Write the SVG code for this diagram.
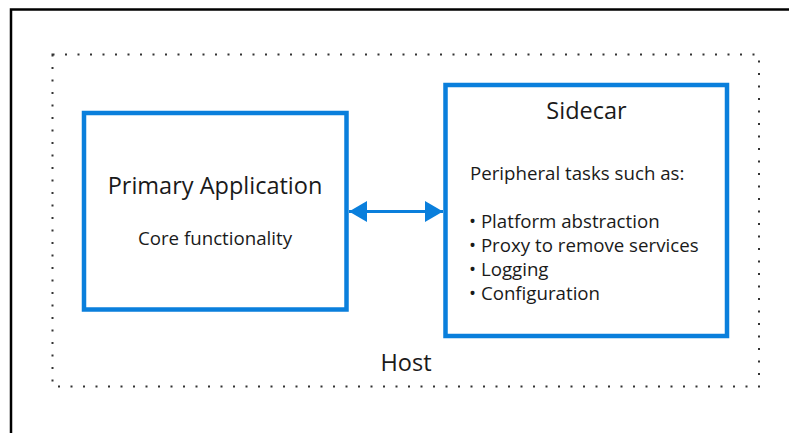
<svg xmlns="http://www.w3.org/2000/svg" width="789" height="433" viewBox="0 0 789 433">
  <defs>
    <style>
      .box { fill: #ffffff; stroke: #0a7fdc; stroke-width: 4.5; }
      .title { font-family: "Open Sans", "Noto Sans", sans-serif; font-size: 23.5px; fill: #1a1a1a; }
      .body { font-family: "Open Sans", "Noto Sans", sans-serif; font-size: 18.7px; fill: #1a1a1a; }
      .conn { stroke: #0a7fdc; stroke-width: 3; fill: none; }
    </style>
    <marker id="ah" viewBox="0 0 18 21" refX="18" refY="10.5" markerWidth="18" markerHeight="21" markerUnits="userSpaceOnUse" orient="auto-start-reverse">
      <path d="M0,0 L18,10.5 L0,21 Z" fill="#0a7fdc"/>
    </marker>
  </defs>
  <rect x="0" y="0" width="789" height="433" fill="#ffffff"/>
  <g id="frame">
    <path d="M11,433 L11,9.5 L789,9.5" fill="none" stroke="#000000" stroke-width="2.5"/>
  </g>
  <g id="host">
    <rect x="52.5" y="54.5" width="706.5" height="332" fill="none" stroke="#333333" stroke-width="2" stroke-dasharray="2 10.5"/>
    <text class="title" x="406" y="371" text-anchor="middle">Host</text>
  </g>
  <g id="primary">
    <rect class="box" x="84" y="113" width="262.5" height="196.5"/>
    <text class="title" x="215" y="194" text-anchor="middle">Primary Application</text>
    <text class="body" x="215" y="245" text-anchor="middle">Core functionality</text>
  </g>
  <g id="sidecar">
    <rect class="box" x="445.5" y="85" width="281.5" height="251"/>
    <text class="title" x="586.5" y="119" text-anchor="middle">Sidecar</text>
    <text class="body" x="470" y="180">Peripheral tasks such as:</text>
    <text class="body" x="469" y="228">• Platform abstraction</text>
    <text class="body" x="469" y="252">• Proxy to remove services</text>
    <text class="body" x="469" y="276">• Logging</text>
    <text class="body" x="469" y="300">• Configuration</text>
  </g>
  <g id="connectors">
    <line class="conn" x1="349" y1="211.5" x2="443" y2="211.5" marker-start="url(#ah)" marker-end="url(#ah)"/>
  </g>
</svg>
